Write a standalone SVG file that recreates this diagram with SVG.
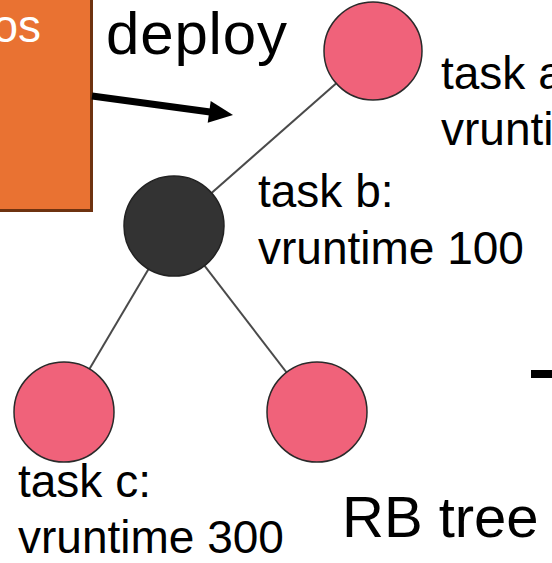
<svg xmlns="http://www.w3.org/2000/svg" width="552" height="563" viewBox="0 0 552 563">
<style>
  .lbl { font-family: "Liberation Sans", Arial, sans-serif; font-size: 46px; fill: #000; }
  .big { font-family: "Liberation Sans", Arial, sans-serif; fill: #000; }
  .red { fill: #F0627A; stroke: #2a2a2a; stroke-width: 1.5; }
  .blk { fill: #333333; stroke: #222; stroke-width: 1.5; }
  .edge { stroke: #4a4a4a; stroke-width: 2; fill: none; }
</style>
<rect width="552" height="563" fill="#ffffff"/>
<g id="os-box">
  <rect x="-10" y="-10" width="101.5" height="220.5" fill="#E97232" stroke="#6E3210" stroke-width="3"/>
  <text x="41" y="42" text-anchor="end" font-family="Liberation Sans, Arial, sans-serif" font-size="46" fill="#ffffff">os</text>
</g>
<g id="connectors">
  <line class="edge" x1="373" y1="51" x2="174" y2="226"/>
  <line class="edge" x1="174" y1="226" x2="64" y2="412"/>
  <line class="edge" x1="174" y1="226" x2="317" y2="412"/>
  <g id="deploy-arrow">
    <line x1="92" y1="96" x2="212" y2="112.2" stroke="#000" stroke-width="7"/>
    <polygon points="233,115 207.7,122.7 210.7,100.9" fill="#000"/>
  </g>
  <rect x="531" y="370" width="25" height="8" fill="#000"/>
</g>
<text class="big" x="106" y="54" font-size="60" textLength="181">deploy</text>
<g id="task-a">
  <circle class="red" cx="373" cy="51" r="49"/>
  <text class="lbl" x="441" y="89">task a:</text>
  <text class="lbl" x="441" y="145">vruntime</text>
</g>
<g id="task-b">
  <circle class="blk" cx="174" cy="226" r="50"/>
  <text class="lbl" x="258" y="207">task b:</text>
  <text class="lbl" x="258" y="264">vruntime 100</text>
</g>
<g id="task-c">
  <circle class="red" cx="64" cy="412" r="50"/>
  <text class="lbl" x="18" y="497">task c:</text>
  <text class="lbl" x="18" y="553">vruntime 300</text>
</g>
<g id="task-d">
  <circle class="red" cx="317" cy="412" r="50"/>
</g>
<text class="big" x="342" y="537" font-size="58">RB tree</text>
</svg>
